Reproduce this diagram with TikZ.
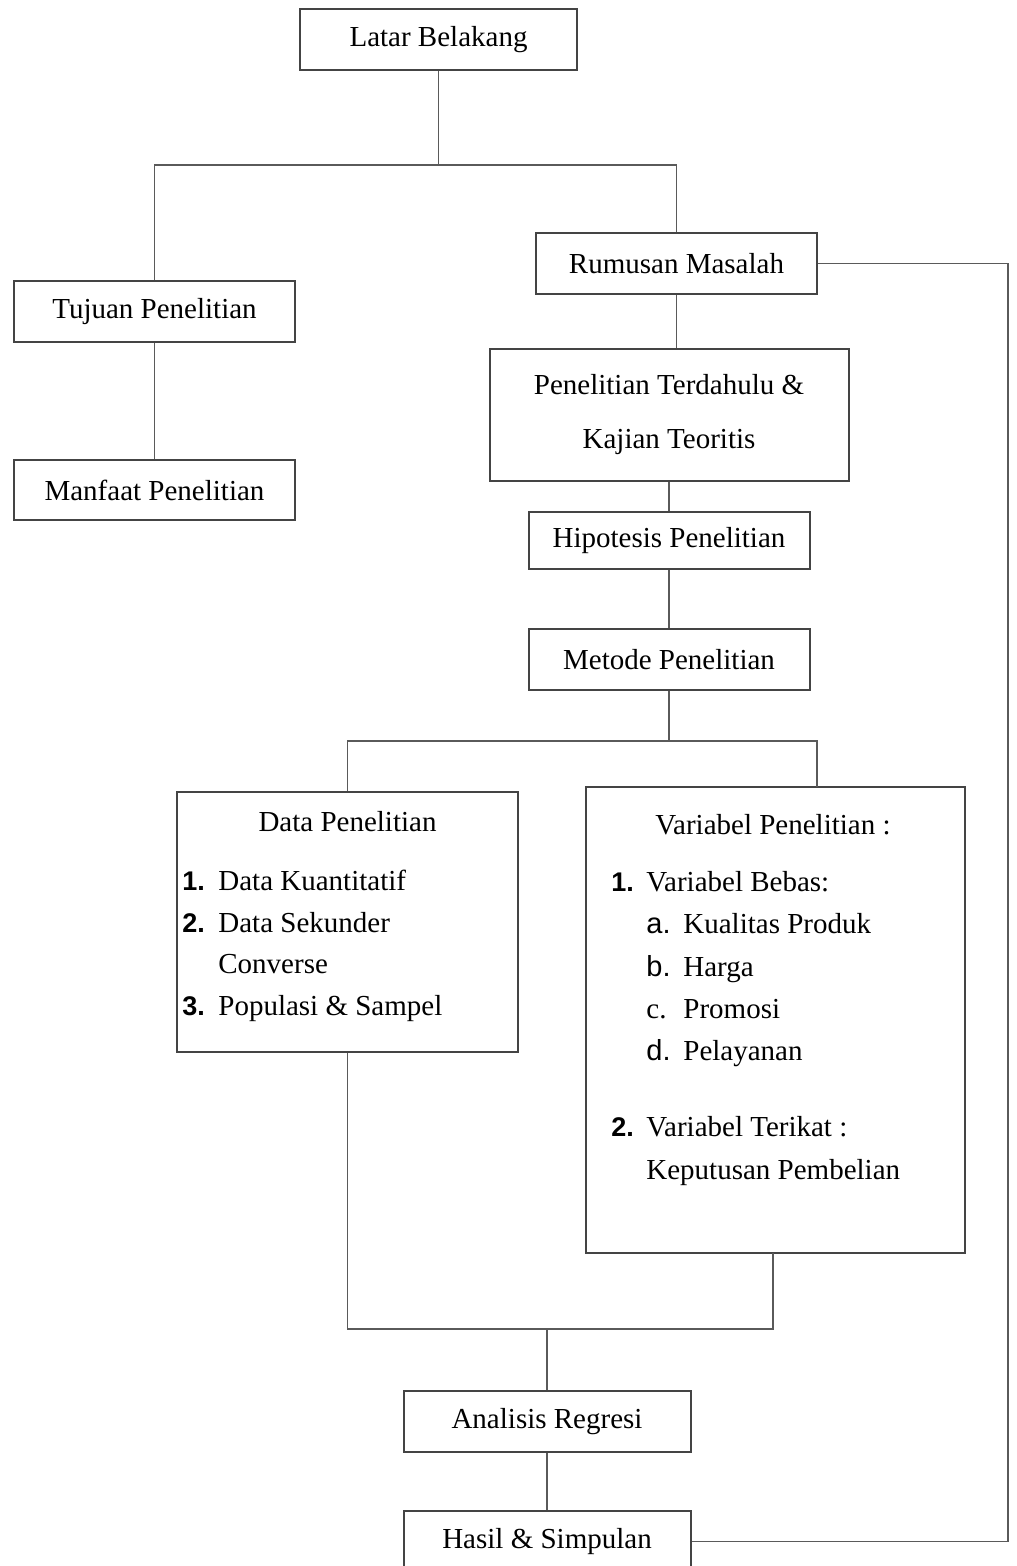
\documentclass[tikz,border=0pt]{standalone}
\usepackage{fontspec}
\setmainfont{Liberation Serif}
\newfontfamily\numfont{Liberation Sans}
\usetikzlibrary{positioning}
\definecolor{boxline}{HTML}{444444}
\definecolor{linkline}{HTML}{5A5A5A}
\tikzset{
  box/.style={draw=boxline, line width=1pt, rectangle, inner sep=0pt, minimum height=30.5pt, minimum width=140.5pt},
  link/.style={draw=linkline, line width=0.65pt},
  entry/.style={anchor=base west, inner sep=0pt},
  head/.style={anchor=base, inner sep=0pt}
}
\newcommand{\nr}[1]{{\numfont\bfseries\fontsize{13.5}{16}\selectfont #1}}
\newcommand{\lt}[1]{{\numfont #1}}

\begin{document}
\begin{tikzpicture}[x=0.5pt,y=-0.5pt,font=\fontsize{14.5}{27}\selectfont]
		\useasboundingbox (0,0) rectangle (1016,1566);
		\clip (0,0) rectangle (1016,1566);
		
		\node[box, minimum width=138.5pt] (latar) at (438.5,39.5) {Latar Belakang};
		\node[box] (rumusan) at (676.5,263.5) {Rumusan Masalah};
		\node[box] (tujuan) at (154.5,311.5) {Tujuan Penelitian};
		\node[box, minimum height=30pt] (manfaat) at (154.5,490) {Manfaat Penelitian};
		\node[box, minimum width=179.5pt, minimum height=66pt, align=center] (terdahulu) at (669,415) {Penelitian Terdahulu \&\\Kajian Teoritis};
		\node[box, minimum height=28.5pt] (hipotesis) at (669,540.5) {Hipotesis Penelitian};
		\node[box] (metode) at (669,659.5) {Metode Penelitian};
		\node[box, minimum width=170.5pt, minimum height=130pt] (data) at (347.5,922) {};
		\node[box, minimum width=189.5pt, minimum height=233pt] (variabel) at (775.5,1020) {};
		\node[box, minimum width=143.5pt] (analisis) at (547,1421.5) {Analisis Regresi};
		\node[box, minimum width=143.5pt] (hasil) at (547,1541.5) {Hasil \& Simpulan};
		
		% isi kotak data
		\node[head] (dtitle) at (347.5,831) {Data Penelitian};
		\node[entry] (d1n) at (182,890) {\nr{1.}};
		\node[entry] (d1) at (218,890) {Data Kuantitatif};
		\node[entry] (d2n) at (182,932) {\nr{2.}};
		\node[entry] (d2) at (218,932) {Data Sekunder};
		\node[entry] (d2b) at (218,973) {Converse};
		\node[entry] (d3n) at (182,1015) {\nr{3.}};
		\node[entry] (d3) at (218,1015) {Populasi \& Sampel};
		
		% isi kotak variabel
		\node[head] (vtitle) at (773,834) {Variabel Penelitian :};
		\node[entry] (v1n) at (611,891) {\nr{1.}};
		\node[entry] (v1) at (646,891) {Variabel Bebas:};
		\node[entry] (van) at (646,933) {\lt{a.}};
		\node[entry] (va) at (683,933) {Kualitas Produk};
		\node[entry] (vbn) at (646,976) {\lt{b.}};
		\node[entry] (vb) at (683,976) {Harga};
		\node[entry] (vcn) at (646,1018) {c.};
		\node[entry] (vc) at (683,1018) {Promosi};
		\node[entry] (vdn) at (646,1060) {\lt{d.}};
		\node[entry] (vd) at (683,1060) {Pelayanan};
		\node[entry] (v2n) at (611,1136) {\nr{2.}};
		\node[entry] (v2) at (646,1136) {Variabel Terikat :};
		\node[entry] (v2b) at (646,1179) {Keputusan Pembelian};
		
		\coordinate (fork1) at (438.5,165);
		\coordinate (fork2) at (669,741);
		\coordinate (varin) at (817,787);
		\coordinate (varout) at (773,1253);
		\coordinate (join) at (547,1329);
		\coordinate (back) at (1008,263.5);
		
		\draw[link] (latar) -- (fork1);
		\draw[link] (tujuan) |- (fork1) -| (rumusan);
		\draw[link] (tujuan) -- (manfaat);
		\draw[link] (rumusan.south) -- (rumusan.south |- terdahulu.north);
		\draw[link] (terdahulu) -- (hipotesis);
		\draw[link] (hipotesis) -- (metode);
		\draw[link] (metode) -- (fork2);
		\draw[link] (data) |- (fork2) -| (varin);
		\draw[link] (data) |- (join) -| (varout);
		\draw[link] (join) -- (analisis);
		\draw[link] (analisis) -- (hasil);
		\draw[link] (rumusan) -- (back) |- (hasil);
	\end{tikzpicture}
\end{document}
